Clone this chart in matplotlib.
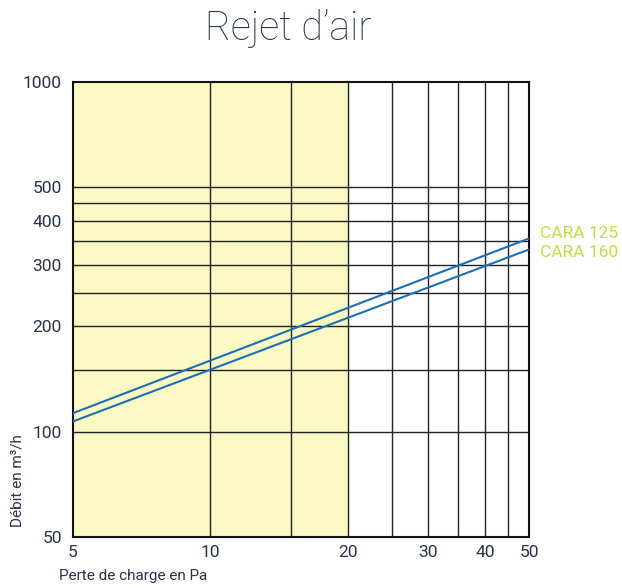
import matplotlib.pyplot as plt
from matplotlib.ticker import FixedLocator, NullFormatter, NullLocator

# data
pressure = [5, 50]
cara_125 = [113, 357]
cara_160 = [107, 332]
x_ticks = [5, 10, 20, 30, 40, 50]
x_grid = [10, 15, 20, 25, 30, 35, 40, 45]
y_ticks = [50, 100, 200, 300, 400, 500, 1000]
y_grid = [100, 150, 200, 250, 300, 350, 400, 450, 500]

navy = '#27324a'
plt.rcParams['font.family'] = ['Roboto', 'DejaVu Sans']

fig = plt.figure(figsize=(6.22, 5.88), dpi=100)
ax = fig.add_axes([73 / 622, 51 / 588, 456 / 622, 455 / 588])
ax.set_xscale('log')
ax.set_yscale('log')
ax.set_xlim(5, 50)
ax.set_ylim(50, 1000)

ax.axvspan(5, 20, color='#faf8c3', zorder=0)
for x in x_grid:
    ax.axvline(x, color='#222222', lw=1, zorder=1)
for y in y_grid:
    ax.axhline(y, color='#222222', lw=1, zorder=1)

ax.plot(pressure, cara_125, color='#1f6db4', lw=1.5, zorder=3)
ax.plot(pressure, cara_160, color='#1f6db4', lw=1.5, zorder=3)

ax.xaxis.set_major_locator(FixedLocator(x_ticks))
ax.xaxis.set_minor_locator(NullLocator())
ax.yaxis.set_major_locator(FixedLocator(y_ticks))
ax.yaxis.set_minor_locator(NullLocator())
ax.set_xticklabels([str(v) for v in x_ticks])
ax.set_yticklabels([str(v) for v in y_ticks])
ax.xaxis.set_minor_formatter(NullFormatter())
ax.yaxis.set_minor_formatter(NullFormatter())
ax.tick_params(length=0, labelsize=12.5, colors=navy, pad=8)
ax.tick_params(axis='x', pad=6)
for s in ax.spines.values():
    s.set_color('#111111')
    s.set_linewidth(1.5)

# series names stacked just right of the frame
ax.text(1.024, 0.666, 'CARA 125', color='#c6d94a', fontsize=12.5,
        va='center', transform=ax.transAxes, clip_on=False)
ax.text(1.024, 0.626, 'CARA 160', color='#c6d94a', fontsize=12.5,
        va='center', transform=ax.transAxes, clip_on=False)

fig.text(288 / 622, 1 - 29 / 588, "Rejet d\u2019air", fontsize=28.5,
         fontweight='light', color=navy, ha='center', va='center')
fig.text(59 / 622, 1 - 576 / 588, 'Perte de charge en Pa', fontsize=11,
         color=navy, ha='left', va='center')
fig.text(18 / 622, 1 - 527 / 588, 'Débit en m³/h', fontsize=11,
         color=navy, rotation=90, ha='center', va='bottom')

fig.savefig('out.png', dpi=100)
